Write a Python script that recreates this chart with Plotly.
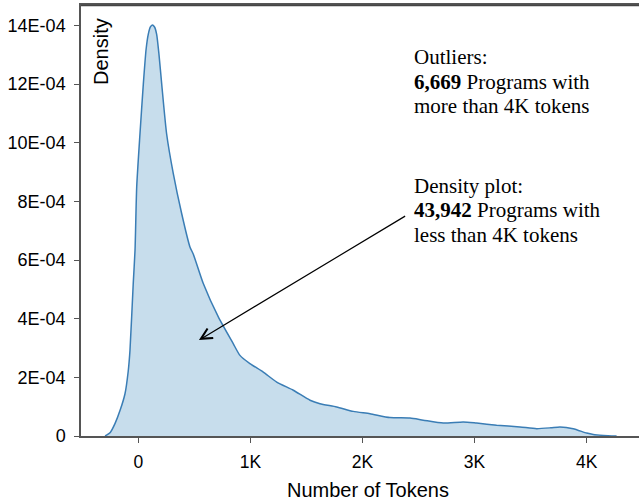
import plotly.graph_objects as go

# Density curve (tokens, density)
tokens = [-296, -250, -207, -160, -118, -90, -74, -45, -29, -14, 15, 45, 70, 89, 108, 125, 145, 164, 185,
          209, 253, 312, 387, 461, 491, 580, 714, 847, 907, 996, 1115, 1235, 1383, 1532, 1621,
          1770, 1918, 2067, 2245, 2424, 2542, 2721, 2899, 3019, 3197, 3405, 3554, 3680, 3762, 3880,
          4000, 4059, 4150, 4267]
density = [0.0, 0.12e-4, 0.43e-4, 0.9e-4, 1.45e-4, 2.2e-4, 2.92e-4, 5.2e-4, 6.34e-4, 8.5e-4, 10.3e-4, 12.0e-4,
           13.2e-4, 13.7e-4, 13.95e-4, 14.02e-4, 13.95e-4, 13.7e-4, 13.0e-4,
           12.0e-4, 10.3e-4, 8.96e-4, 7.59e-4, 6.45e-4, 6.2e-4, 5.2e-4, 4.06e-4, 3.15e-4, 2.75e-4, 2.47e-4,
           2.18e-4, 1.84e-4, 1.56e-4, 1.22e-4, 1.1e-4,
           0.99e-4, 0.84e-4, 0.76e-4, 0.63e-4, 0.61e-4, 0.54e-4, 0.44e-4, 0.48e-4, 0.44e-4, 0.37e-4,
           0.31e-4, 0.25e-4, 0.28e-4, 0.31e-4, 0.25e-4, 0.10e-4, 0.05e-4, 0.02e-4, 0.0]

x_tickvals = [0, 1000, 2000, 3000, 4000]
x_ticktext = ["0", "1K", "2K", "3K", "4K"]
y_tickvals = [0, 2e-4, 4e-4, 6e-4, 8e-4, 10e-4, 12e-4, 14e-4]
y_ticktext = ["0", "2E-04", "4E-04", "6E-04", "8E-04", "10E-04", "12E-04", "14E-04"]

outlier_lines = ["Outliers:", "<b>6,669</b> Programs with", "more than 4K tokens"]
density_lines = ["Density plot:", "<b>43,942</b> Programs with", "less than 4K tokens"]

W, H = 639, 502
L, R, T, B = 81, 0, 5, 66
pw, ph = W - L - R, H - T - B

def px(xp):
    return (xp - L) / pw

def py(yp):
    return (H - B - yp) / ph

fig = go.Figure()
fig.add_trace(go.Scatter(
    x=tokens, y=density, mode="lines",
    line=dict(color="#3a7db5", width=1.5, shape="spline", smoothing=0.6),
    fill="tozeroy", fillcolor="rgba(31,119,180,0.25)",
    hoverinfo="skip", showlegend=False,
))

sans = "Liberation Sans, Arial, sans-serif"
serif = "Liberation Serif, Times New Roman, serif"
axcol = "#555555"

fig.update_layout(
    width=W, height=H,
    margin=dict(l=L, r=R, t=T, b=B, pad=0, autoexpand=False),
    paper_bgcolor="white", plot_bgcolor="white",
    font=dict(family=sans, size=17, color="black"),
    xaxis=dict(range=[-511, 4467], tickvals=x_tickvals, ticktext=x_ticktext,
               showgrid=False, zeroline=False, showline=True, linecolor=axcol, linewidth=1.5,
               mirror=True, ticks="outside", ticklen=5, tickcolor=axcol, tickwidth=1.3,
               tickfont=dict(family=sans, size=17.5), ticklabelstandoff=4, fixedrange=True),
    yaxis=dict(range=[0, 14.7e-4], tickvals=y_tickvals, ticktext=y_ticktext,
               showgrid=False, zeroline=False, showline=True, linecolor=axcol, linewidth=1.5,
               ticks="outside", ticklen=5, tickcolor=axcol, tickwidth=1.3,
               tickfont=dict(family=sans, size=18), ticklabelstandoff=5, fixedrange=True),
)

# Top frame line (open on the right, as in the reference)
fig.add_shape(type="line", xref="paper", yref="paper", x0=0, x1=1,
              y0=py(5.5), y1=py(5.5),
              line=dict(color="#444444", width=1.6), layer="above")

# Axis titles as annotations
fig.add_annotation(text="Number of Tokens", xref="paper", yref="paper",
                   x=px(368), y=py(490), xanchor="center", yanchor="middle",
                   showarrow=False, font=dict(family=sans, size=20))
fig.add_annotation(text="Density", xref="paper", yref="paper", textangle=-90,
                   x=px(101), y=py(52), xanchor="center", yanchor="middle",
                   showarrow=False, font=dict(family=sans, size=20))

# Text blocks, one annotation per line
for lines, baselines in ((outlier_lines, [64.3, 89.3, 113.3]),
                         (density_lines, [192.7, 216.7, 241.7])):
    for line, bl in zip(lines, baselines):
        fig.add_annotation(text=line, xref="paper", yref="paper",
                           x=px(412), y=py(bl - 7), xanchor="left", yanchor="middle",
                           align="left", showarrow=False,
                           font=dict(family=serif, size=21))

# Arrow from text to the density area
fig.add_annotation(x=541, y=3.27e-4, ax=2394, ay=7.53e-4, xref="x", yref="y",
                   axref="x", ayref="y", text="", showarrow=True,
                   arrowhead=5, arrowsize=1.8, arrowwidth=1.2, arrowcolor="black", standoff=0)

fig.write_html("out.html", config={"displayModeBar": False},
               post_script="document.body.style.margin='0px';")
